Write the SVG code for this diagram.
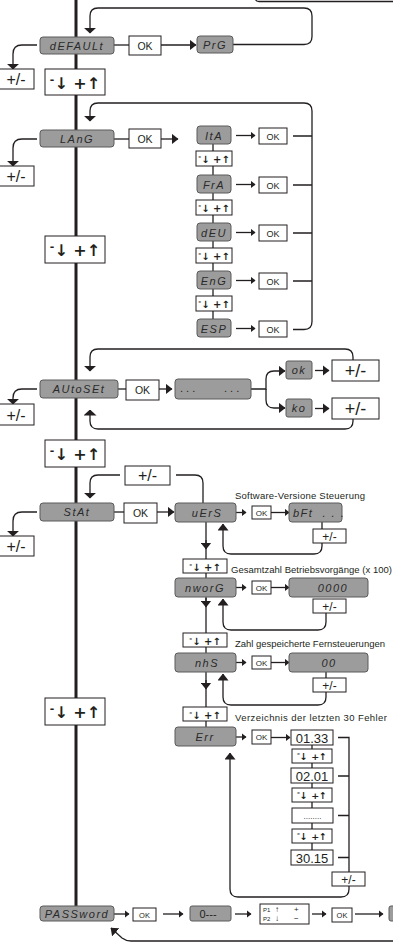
<svg xmlns="http://www.w3.org/2000/svg" width="393" height="944" viewBox="0 0 393 944">
<style>
.g{fill:#9c9c9c;stroke:#5a5a5a;stroke-width:1}
.w{fill:#fff;stroke:#231f20;stroke-width:1}
.seg{font-family:"Liberation Sans",sans-serif;font-style:italic;fill:#2a2a2a;text-anchor:middle;letter-spacing:1.5px;font-size:11px}
.t{font-family:"Liberation Sans",sans-serif;fill:#231f20;text-anchor:middle}
.st{text-anchor:start}
.k{font-family:"DejaVu Sans",sans-serif;fill:#231f20;text-anchor:middle;font-weight:bold}
.c{fill:none;stroke:#231f20;stroke-width:1.3}
.lbl{font-family:"Liberation Sans",sans-serif;font-size:9.5px;fill:#231f20}
</style>
<defs>
<marker id="aw" viewBox="0 0 6 13" refX="5.5" refY="6.5" markerWidth="6" markerHeight="13" orient="auto" markerUnits="userSpaceOnUse"><path d="M0,0 L6,6.5 L0,13 Z" fill="#231f20"/></marker>
<marker id="am" viewBox="0 0 7 11" refX="6.5" refY="5.5" markerWidth="7" markerHeight="11" orient="auto" markerUnits="userSpaceOnUse"><path d="M0,0 L7,5.5 L0,11 Z" fill="#231f20"/></marker>
<marker id="as" viewBox="0 0 5 8" refX="4.5" refY="4" markerWidth="5" markerHeight="8" orient="auto" markerUnits="userSpaceOnUse"><path d="M0,0 L5,4 L0,8 Z" fill="#231f20"/></marker>
</defs>

<g id="connectors">
<path d="M76,0 V906" fill="none" stroke="#231f20" stroke-width="3"/>
<path class="c" d="M393,1.5 H259 Q255,1.5 255,-3"/>
<!-- default -->
<path class="c" d="M233,44.5 H304 Q312,44.5 312,36.5 V16 Q312,8 304,8 H98 Q90,8 90,16 V33" marker-end="url(#aw)"/>
<path class="c" d="M114,45 H129"/>
<path class="c" d="M161,45 H196" marker-end="url(#am)"/>
<path class="c" d="M37,45 H22 Q13,45 13,54 V69" marker-end="url(#aw)"/>
<!-- lang -->
<path class="c" d="M293,329.5 H304 Q312,329.5 312,321.5 V111 Q312,103 304,103 H98 Q90,103 90,111 V121" marker-end="url(#aw)"/>
<path class="c" d="M114,139 H129"/>
<path class="c" d="M161,139 H178" marker-end="url(#am)"/>
<path class="c" d="M37,139 H22 Q13,139 13,148 V166" marker-end="url(#aw)"/>
<path class="c" d="M213,144 V319"/>
<path class="c" d="M236,135.5 H255" marker-end="url(#as)"/>
<path class="c" d="M236,184.5 H255" marker-end="url(#as)"/>
<path class="c" d="M236,232.5 H255" marker-end="url(#as)"/>
<path class="c" d="M236,280.5 H255" marker-end="url(#as)"/>
<path class="c" d="M236,328.5 H255" marker-end="url(#as)"/>
<path class="c" d="M293,136 H312 M293,185 H312 M293,233 H312 M293,281 H312"/>
<!-- autoset -->
<path class="c" d="M353,360 V357 Q353,349 345,349 H98 Q90,349 90,357 V371" marker-end="url(#aw)"/>
<path class="c" d="M353,419 V421 Q353,429 345,429 H98 Q90,429 90,421 V410" marker-end="url(#aw)"/>
<path class="c" d="M118,389 H126"/>
<path class="c" d="M159,389 H172" marker-end="url(#am)"/>
<path class="c" d="M37,389 H22 Q13,389 13,398 V404" marker-end="url(#aw)"/>
<path class="c" d="M251,389 H266 V379 Q266,371 274,371 H285" marker-end="url(#am)"/>
<path class="c" d="M266,389 V400 Q266,408 274,408 H285" marker-end="url(#am)"/>
<path class="c" d="M315,370.5 H329" marker-end="url(#am)"/>
<path class="c" d="M315,408.5 H329" marker-end="url(#am)"/>
<!-- stat -->
<path class="c" d="M176,475 H195 Q203,475 203,483 V503"/>
<path class="c" d="M120,475 H98 Q90,475 90,483 V498" marker-end="url(#aw)"/>
<path class="c" d="M114,512 H124"/>
<path class="c" d="M157,512 H174" marker-end="url(#am)"/>
<path class="c" d="M37,512 H22 Q13,512 13,521 V536" marker-end="url(#aw)"/>
<path class="c" d="M206,522 V727"/>
<path class="c" d="M206,540 V549" marker-end="url(#am)"/>
<path class="c" d="M206,598 V607" marker-end="url(#am)"/>
<path class="c" d="M206,680 V689" marker-end="url(#am)"/>
<path class="c" d="M236,512.5 H246" marker-end="url(#as)"/>
<path class="c" d="M271,512.5 H289" marker-end="url(#as)"/>
<path class="c" d="M236,587.5 H246" marker-end="url(#as)"/>
<path class="c" d="M271,587.5 H289" marker-end="url(#as)"/>
<path class="c" d="M236,662.5 H246" marker-end="url(#as)"/>
<path class="c" d="M271,662.5 H289" marker-end="url(#as)"/>
<path class="c" d="M236,737 H246" marker-end="url(#as)"/>
<path class="c" d="M271,737.5 H290" marker-end="url(#as)"/>
<path class="c" d="M322,522 V529 M322,543 V546 Q322,554 314,554 H231 Q223,554 223,546 V524" marker-end="url(#am)"/>
<path class="c" d="M326,613 V622 Q326,630 318,630 H231 Q223,630 223,622 V599" marker-end="url(#am)"/>
<path class="c" d="M326,672 V678 M326,692 V697 Q326,705 318,705 H231 Q223,705 223,697 V674" marker-end="url(#am)"/>
<path class="c" d="M312,745 V850"/>
<path class="c" d="M338,737.5 H349 V872 M338,776 H349 M338,815.5 H349 M338,857.5 H349"/>
<path class="c" d="M349,886 V889 Q349,897 341,897 H238 Q230,897 230,889 V753" marker-end="url(#am)"/>
<!-- password -->
<path class="c" d="M114,914 H129" marker-end="url(#as)"/>
<path class="c" d="M163,914 H183" marker-end="url(#as)"/>
<path class="c" d="M235,914 H251" marker-end="url(#as)"/>
<path class="c" d="M312,914 H326" marker-end="url(#as)"/>
<path class="c" d="M355,914 H383" marker-end="url(#as)"/>
<path class="c" d="M393,941 H131 Q126,941 122,938 L111,928" marker-end="url(#am)"/>
</g>

<g id="default"><rect class="g" x="40" y="37" width="74" height="17" rx="3"/><text class="seg" x="77" y="49.5">dEFAULt</text></g>
<g id="ok-default"><rect class="w" x="129" y="36" width="32" height="19"/><text class="t" x="145" y="49.5" font-size="10.5">OK</text></g>
<g id="prg"><rect class="g" x="197" y="36" width="36" height="17" rx="3"/><text class="seg" x="215" y="48.5">PrG</text></g>
<g id="pm-default"><rect class="w" x="-1" y="69" width="35" height="20"/><text class="t" x="16" y="85" font-size="16">+/-</text></g>
<g id="key-1"><rect class="w" x="45" y="69" width="60" height="26"/><text class="k" x="75" y="89" font-size="16"><tspan font-size="11" dy="-6">-</tspan><tspan dy="6">↓ +↑</tspan></text></g>

<g id="lang"><rect class="g" x="40" y="130" width="74" height="17" rx="3"/><text class="seg" x="77" y="142.5">LAnG</text></g>
<g id="ok-lang"><rect class="w" x="129" y="129" width="32" height="19"/><text class="t" x="145" y="142.5" font-size="10.5">OK</text></g>
<g id="pm-lang"><rect class="w" x="-1" y="166" width="35" height="20"/><text class="t" x="16" y="182" font-size="16">+/-</text></g>
<g id="ita"><rect class="g" x="197" y="126" width="34" height="18" rx="3"/><text class="seg" x="214" y="139.5" font-size="10">ItA</text></g>
<g id="ok-ita"><rect class="w" x="259" y="128" width="28" height="16"/><text class="t" x="273" y="140" font-size="9">OK</text></g>
<g id="key-ita"><rect class="w" x="196" y="151" width="36" height="15"/><text class="k" x="214" y="163" font-size="10"><tspan font-size="7" dy="-4">-</tspan><tspan dy="4">↓ +↑</tspan></text></g>
<g id="fra"><rect class="g" x="197" y="175" width="34" height="18" rx="3"/><text class="seg" x="214" y="188.5" font-size="10">FrA</text></g>
<g id="ok-fra"><rect class="w" x="259" y="177" width="28" height="16"/><text class="t" x="273" y="189" font-size="9">OK</text></g>
<g id="key-fra"><rect class="w" x="196" y="200" width="36" height="15"/><text class="k" x="214" y="212" font-size="10"><tspan font-size="7" dy="-4">-</tspan><tspan dy="4">↓ +↑</tspan></text></g>
<g id="deu"><rect class="g" x="197" y="223" width="34" height="18" rx="3"/><text class="seg" x="214" y="236.5" font-size="10">dEU</text></g>
<g id="ok-deu"><rect class="w" x="259" y="225" width="28" height="16"/><text class="t" x="273" y="237" font-size="9">OK</text></g>
<g id="key-deu"><rect class="w" x="196" y="248" width="36" height="15"/><text class="k" x="214" y="260" font-size="10"><tspan font-size="7" dy="-4">-</tspan><tspan dy="4">↓ +↑</tspan></text></g>
<g id="eng"><rect class="g" x="197" y="271" width="34" height="18" rx="3"/><text class="seg" x="214" y="284.5" font-size="10">EnG</text></g>
<g id="ok-eng"><rect class="w" x="259" y="273" width="28" height="16"/><text class="t" x="273" y="285" font-size="9">OK</text></g>
<g id="key-eng"><rect class="w" x="196" y="296" width="36" height="15"/><text class="k" x="214" y="308" font-size="10"><tspan font-size="7" dy="-4">-</tspan><tspan dy="4">↓ +↑</tspan></text></g>
<g id="esp"><rect class="g" x="197" y="319" width="34" height="18" rx="3"/><text class="seg" x="214" y="332.5" font-size="10">ESP</text></g>
<g id="ok-esp"><rect class="w" x="259" y="321" width="28" height="16"/><text class="t" x="273" y="333" font-size="9">OK</text></g>
<g id="key-2"><rect class="w" x="45" y="236" width="60" height="27"/><text class="k" x="75" y="256" font-size="16"><tspan font-size="11" dy="-6">-</tspan><tspan dy="6">↓ +↑</tspan></text></g>

<g id="autoset"><rect class="g" x="40" y="380" width="78" height="18" rx="3"/><text class="seg" x="79" y="393">AUtoSEt</text></g>
<g id="ok-autoset"><rect class="w" x="126" y="380" width="33" height="20"/><text class="t" x="142.5" y="394" font-size="10.5">OK</text></g>
<g id="dots"><rect class="g" x="175" y="379" width="76" height="20" rx="3"/><text class="t st" font-size="11" y="392"><tspan x="180">. . .</tspan><tspan x="224">. . .</tspan></text></g>
<g id="ok-result"><rect class="g" x="286" y="361" width="26" height="18" rx="2"/><text class="seg" x="299" y="374" font-size="10">ok</text></g>
<g id="ko-result"><rect class="g" x="286" y="399" width="26" height="18" rx="2"/><text class="seg" x="299" y="412" font-size="10">ko</text></g>
<g id="pm-ok"><rect class="w" x="332" y="360" width="47" height="21"/><text class="t" x="355.5" y="377" font-size="18">+/-</text></g>
<g id="pm-ko"><rect class="w" x="332" y="398" width="47" height="21"/><text class="t" x="355.5" y="415" font-size="18">+/-</text></g>
<g id="pm-autoset"><rect class="w" x="-1" y="404" width="35" height="21"/><text class="t" x="16" y="420.5" font-size="16">+/-</text></g>
<g id="key-3"><rect class="w" x="45" y="440" width="60" height="27"/><text class="k" x="75" y="460" font-size="16"><tspan font-size="11" dy="-6">-</tspan><tspan dy="6">↓ +↑</tspan></text></g>

<g id="pm-stat-top"><rect class="w" x="125" y="466" width="45" height="19"/><text class="t" x="147.5" y="481" font-size="16">+/-</text></g>
<g id="stat"><rect class="g" x="40" y="503" width="74" height="18" rx="3"/><text class="seg" x="77" y="516">StAt</text></g>
<g id="ok-stat"><rect class="w" x="124" y="503" width="33" height="20"/><text class="t" x="140.5" y="517" font-size="10.5">OK</text></g>
<g id="pm-stat"><rect class="w" x="-1" y="536" width="35" height="20"/><text class="t" x="16" y="552" font-size="16">+/-</text></g>

<g id="uers"><rect class="g" x="175" y="503" width="61" height="19" rx="3"/><text class="seg" x="207" y="516.5">uErS</text></g>
<g id="ok-uers"><rect class="w" x="252" y="506" width="19" height="13"/><text class="t" x="261.5" y="515.5" font-size="8">OK</text></g>
<g id="bft"><rect class="g" x="289" y="503" width="53" height="19" rx="3"/><text class="seg st" x="293" y="516.5" xml:space="preserve">bFt  . . .</text></g>
<g id="pm-bft"><rect class="w" x="313" y="529" width="33" height="14"/><text class="t" x="329.5" y="540.5" font-size="12">+/-</text></g>
<text class="lbl" x="235" y="499" textLength="130">Software-Versione Steuerung</text>
<g id="key-uers"><rect class="w" x="183" y="559" width="44" height="14"/><text class="k" x="205" y="570.5" font-size="10"><tspan font-size="7" dy="-4">-</tspan><tspan dy="4">↓ +↑</tspan></text></g>
<text class="lbl" x="231" y="573" textLength="161">Gesamtzahl Betriebsvorgänge (x 100)</text>

<g id="nworg"><rect class="g" x="175" y="578" width="61" height="19" rx="3"/><text class="seg" x="205" y="591.5">nworG</text></g>
<g id="ok-nworg"><rect class="w" x="252" y="581" width="19" height="13"/><text class="t" x="261.5" y="590.5" font-size="8">OK</text></g>
<g id="count"><rect class="g" x="289" y="578" width="79" height="19" rx="3"/><text class="seg" x="333" y="591.5">0000</text></g>
<g id="pm-count"><rect class="w" x="313" y="599" width="33" height="14"/><text class="t" x="329.5" y="610.5" font-size="12">+/-</text></g>
<g id="key-nworg"><rect class="w" x="183" y="633" width="44" height="14"/><text class="k" x="205" y="644.5" font-size="10"><tspan font-size="7" dy="-4">-</tspan><tspan dy="4">↓ +↑</tspan></text></g>
<text class="lbl" x="235" y="647" textLength="150">Zahl gespeicherte Fernsteuerungen</text>

<g id="nhs"><rect class="g" x="175" y="653" width="61" height="19" rx="3"/><text class="seg" x="207" y="666.5">nhS</text></g>
<g id="ok-nhs"><rect class="w" x="252" y="656" width="19" height="13"/><text class="t" x="261.5" y="665.5" font-size="8">OK</text></g>
<g id="remotes"><rect class="g" x="289" y="653" width="79" height="19" rx="3"/><text class="seg" x="329" y="666.5">00</text></g>
<g id="pm-remotes"><rect class="w" x="313" y="678" width="33" height="14"/><text class="t" x="329.5" y="689.5" font-size="12">+/-</text></g>
<g id="key-nhs"><rect class="w" x="183" y="707" width="44" height="14"/><text class="k" x="205" y="718.5" font-size="10"><tspan font-size="7" dy="-4">-</tspan><tspan dy="4">↓ +↑</tspan></text></g>
<text class="lbl" x="235" y="721" textLength="152">Verzeichnis der letzten 30 Fehler</text>

<g id="key-4"><rect class="w" x="45" y="698" width="60" height="27"/><text class="k" x="75" y="718" font-size="16"><tspan font-size="11" dy="-6">-</tspan><tspan dy="6">↓ +↑</tspan></text></g>

<g id="err"><rect class="g" x="175" y="727" width="61" height="19" rx="3"/><text class="seg" x="205" y="740.5">Err</text></g>
<g id="ok-err"><rect class="w" x="252" y="730" width="19" height="14"/><text class="t" x="261.5" y="740" font-size="8">OK</text></g>
<g id="e1"><rect class="w" x="291" y="730" width="42" height="15"/><text class="t" x="312" y="742.5" font-size="13">01.33</text></g>
<g id="ke1"><rect class="w" x="292" y="749" width="40" height="14"/><text class="k" x="312" y="760" font-size="9.5"><tspan font-size="7" dy="-4">-</tspan><tspan dy="4">↓ +↑</tspan></text></g>
<g id="e2"><rect class="w" x="291" y="768" width="42" height="15"/><text class="t" x="312" y="780.5" font-size="13">02.01</text></g>
<g id="ke2"><rect class="w" x="292" y="788" width="40" height="14"/><text class="k" x="312" y="799" font-size="9.5"><tspan font-size="7" dy="-4">-</tspan><tspan dy="4">↓ +↑</tspan></text></g>
<g id="e3"><rect class="w" x="292" y="808" width="41" height="15"/><text class="t" x="312.5" y="819" font-size="8">........</text></g>
<g id="ke3"><rect class="w" x="292" y="829" width="40" height="14"/><text class="k" x="312" y="840" font-size="9.5"><tspan font-size="7" dy="-4">-</tspan><tspan dy="4">↓ +↑</tspan></text></g>
<g id="e4"><rect class="w" x="291" y="850" width="42" height="15"/><text class="t" x="312" y="862.5" font-size="13">30.15</text></g>
<g id="pm-err"><rect class="w" x="332" y="872" width="33" height="14"/><text class="t" x="348.5" y="883.5" font-size="12">+/-</text></g>

<g id="password"><rect class="g" x="40" y="906" width="74" height="15" rx="3"/><text class="seg" x="77" y="917.5" font-size="10.5">PASSword</text></g>
<g id="ok-pw"><rect class="w" x="133" y="908" width="23" height="13"/><text class="t" x="144.5" y="917.5" font-size="7.5">OK</text></g>
<g id="code"><rect class="g" x="190" y="906" width="41" height="15" rx="2"/><text class="t" x="208" y="918" font-size="11">0---</text></g>
<g id="p1p2"><rect class="w" x="260" y="904" width="49" height="20"/><text class="t st" font-size="6" y="912"><tspan x="263">P1</tspan><tspan x="275" font-size="8">↑</tspan><tspan x="294" font-size="8">+</tspan></text><text class="t st" font-size="6" y="921"><tspan x="263">P2</tspan><tspan x="275" font-size="8">↓</tspan><tspan x="294" font-size="8">−</tspan></text></g>
<g id="ok-pw2"><rect class="w" x="332" y="908" width="20" height="14"/><text class="t" x="342" y="918" font-size="7.5">OK</text></g>
<g id="next"><rect class="g" x="389" y="906" width="10" height="15" rx="2"/></g>
</svg>
